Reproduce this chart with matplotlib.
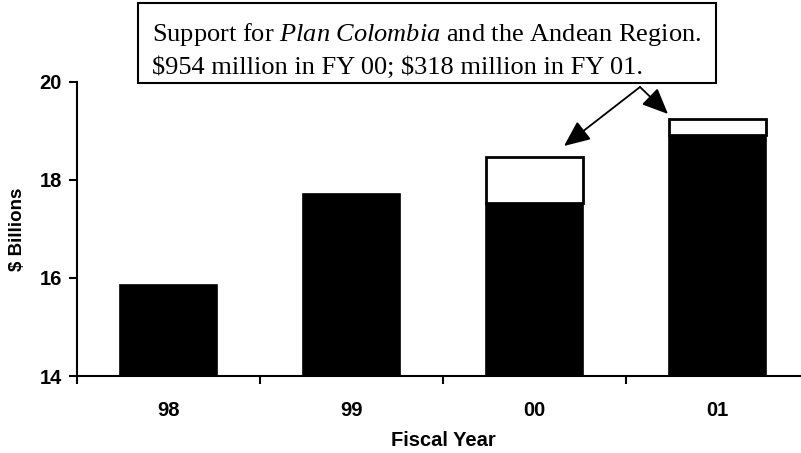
import matplotlib
matplotlib.use("Agg")
import matplotlib.pyplot as plt
from matplotlib.patches import Rectangle, FancyArrowPatch
import numpy as np

plt.rcParams["mathtext.fontset"] = "custom"
plt.rcParams["mathtext.rm"] = "Liberation Serif"
plt.rcParams["mathtext.it"] = "Liberation Serif:italic"

years = ["98", "99", "00", "01"]
base_values = [15.85, 17.71, 17.52, 18.92]       # $ billions (black)
plan_colombia = [0.0, 0.0, 0.954, 0.318]          # $ billions (white)

W, H = 801, 453
fig = plt.figure(figsize=(W / 100, H / 100), dpi=100)
ax = fig.add_axes([77 / W, 1 - 376 / H, (809 - 77) / W, (376 - 81.7) / H])

x = np.arange(len(years))
bw = 0.53
ax.bar(x, np.array(base_values) - 14, bottom=14, width=bw, color="black",
       edgecolor="black", linewidth=1.2, zorder=2)
mask = np.array(plan_colombia) > 0
ax.bar(x[mask], np.array(plan_colombia)[mask], bottom=np.array(base_values)[mask],
       width=bw, color="white", edgecolor="black", linewidth=2.0, zorder=2)

ax.set_xlim(-0.5, 3.5)
ax.set_ylim(14, 20)
ax.set_yticks([14, 16, 18, 20])
ax.set_xticks(x)
ax.set_xticklabels(years)
ax.set_xticks(np.arange(-0.5, 3.6, 1.0), minor=True)
ax.tick_params(axis="x", which="major", length=0, pad=18)
ax.tick_params(axis="x", which="minor", length=6, width=1.5, direction="out")
ax.tick_params(axis="y", which="major", length=6, width=1.5, direction="out", pad=5)
for lbl in ax.get_xticklabels() + ax.get_yticklabels():
    lbl.set_fontfamily("Liberation Sans")
    lbl.set_fontweight("bold")
    lbl.set_fontsize(14.5)

for s in ["top", "right"]:
    ax.spines[s].set_visible(False)
for s in ["left", "bottom"]:
    ax.spines[s].set_linewidth(1.5)

fig.text(18 / W, 1 - 229 / H, "$ Billions", fontfamily="Liberation Sans",
         fontweight="bold", fontsize=13.5, rotation=90, ha="center", va="center")
fig.text(443 / W, 1 - 441 / H, "Fiscal Year", fontfamily="Liberation Sans",
         fontweight="bold", fontsize=14.5, ha="center", va="center")

# annotation box
bx0, by0, bx1, by1 = 138, 3, 716, 83
fig.patches.append(Rectangle((bx0 / W, 1 - by1 / H), (bx1 - bx0) / W, (by1 - by0) / H,
                             transform=fig.transFigure, facecolor="white",
                             edgecolor="black", linewidth=1.5, zorder=5))
fig.text(152 / W, 1 - 41 / H, "Support for $\\it{Plan\\ Colombia}$ and the Andean Region.",
         fontfamily="Liberation Serif", fontsize=19, ha="left", va="baseline", zorder=6)
fig.text(152 / W, 1 - 74 / H, "\\$954 million in FY 00; \\$318 million in FY 01.",
         fontfamily="Liberation Serif", fontsize=19, ha="left", va="baseline", zorder=6)

apex = (640 / W, 1 - 87 / H)
for tip in [(564, 146), (668, 114)]:
    fig.add_artist(FancyArrowPatch(
        apex, (tip[0] / W, 1 - tip[1] / H), transform=fig.transFigure,
        arrowstyle="-|>,head_length=0.8,head_width=0.35", mutation_scale=20,
        color="black", linewidth=1.3, shrinkA=0, shrinkB=0))

fig.savefig("out.png", dpi=100)
